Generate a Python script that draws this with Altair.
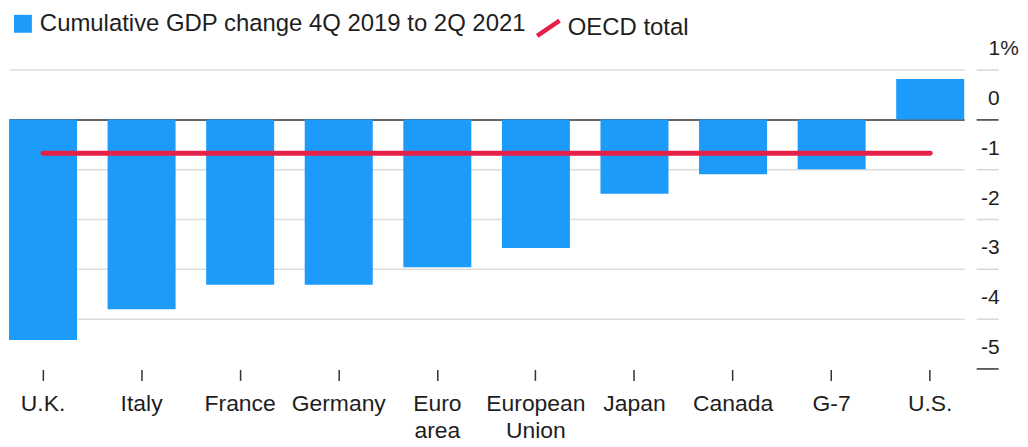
import altair as alt
import pandas as pd

# ---- data ----
countries = ["U.K.", "Italy", "France", "Germany", "Euro area", "European Union",
             "Japan", "Canada", "G-7", "U.S."]
gdp_change = [-4.43, -3.81, -3.32, -3.32, -2.97, -2.58, -1.49, -1.10, -1.00, 0.81]
oecd_total = [-0.68]
y_ticks = [1, 0, -1, -2, -3, -4, -5]
series_bar = "Cumulative GDP change 4Q 2019 to 2Q 2021"
series_line = "OECD total"

BLUE = "#1d9bfb"
RED = "#e5214a"
FONT = "Liberation Sans"
TEXT = "#1e1e1e"

bars_df = pd.DataFrame({"country": countries, "value": gdp_change, "series": series_bar})
line_df = pd.DataFrame({"start": [countries[0]], "end": [countries[-1]],
                        "value": oecd_total, "series": [series_line]})

xscale = alt.Scale(domain=countries, paddingInner=0.31, paddingOuter=0)
yscale = alt.Scale(domain=[-5, 1], nice=False, zero=False)

x_axis = alt.Axis(
    orient="bottom", offset=1, domain=False, grid=False,
    tickSize=11, tickWidth=1.5, tickColor="#333",
    labelFont=FONT, labelFontSize=23, labelColor=TEXT, labelAngle=0,
    labelPadding=12, labelLineHeight=27,
    labelExpr="split(datum.label, ' ')", title=None,
)

y_axis = alt.Axis(
    orient="right", values=y_ticks, offset=12, domain=False,
    tickSize=22, tickWidth=1.5,
    tickColor={"condition": {"test": "datum.value === 0 || datum.value === -5", "value": "#333"},
               "value": "#d6d6d6"},
    grid=True, gridWidth=1.5,
    gridColor={"condition": {"test": "datum.value === 0", "value": "#333"}, "value": "#dcdcdc"},
    gridOpacity={"condition": {"test": "datum.value === -5", "value": 0}, "value": 1},
    labelFont=FONT, labelFontSize=21, labelColor=TEXT,
    labelAlign={"condition": {"test": "datum.value === 1", "value": "left"}, "value": "right"},
    labelPadding={"condition": {"test": "datum.value === 1", "value": -10}, "value": 1},
    labelBaseline="alphabetic", labelOffset=-15,
    labelExpr="datum.value === 1 ? '1%' : (datum.value < 0 ? '-' + (-datum.value) : '' + datum.value)",
    title=None,
)

bars = alt.Chart(bars_df).mark_bar().encode(
    x=alt.X("country:N", scale=xscale, sort=None, axis=x_axis),
    y=alt.Y("value:Q", scale=yscale, axis=y_axis),
    y2=alt.datum(0),
    color=alt.Color(
        "series:N",
        scale=alt.Scale(domain=[series_bar], range=[BLUE]),
        legend=alt.Legend(
            orient="none", legendX=2, legendY=-58, title=None,
            symbolType="square", symbolSize=324, symbolStrokeWidth=0,
            labelFont=FONT, labelFontSize=24, labelColor=TEXT,
            labelLimit=800, labelOffset=5, padding=0,
        ),
    ),
)

rule = alt.Chart(line_df).mark_rule(strokeWidth=5, strokeCap="round").encode(
    x=alt.X("start:N", scale=xscale, sort=None, axis=x_axis),
    x2="end:N",
    y=alt.Y("value:Q", scale=yscale, axis=y_axis),
    stroke=alt.Stroke(
        "series:N",
        scale=alt.Scale(domain=[series_line], range=[RED]),
        legend=alt.Legend(
            orient="none", legendX=525, legendY=-58, title=None,
            symbolType="M-0.8,0.55L0.8,-0.55", symbolSize=784, symbolStrokeWidth=4.5,
            labelFont=FONT, labelFontSize=24, labelColor=TEXT,
            labelLimit=800, labelOffset=3, padding=0,
        ),
    ),
)

chart = alt.layer(bars, rule).properties(
    width=959, height=300,
    background="white",
    autosize=alt.AutoSizeParams(type="none"),
    padding={"left": 1, "top": 61, "right": 56, "bottom": 76},
).configure_view(strokeWidth=0, stroke=None)

chart.save("out.html", embed_options={"renderer": "svg", "actions": False})
